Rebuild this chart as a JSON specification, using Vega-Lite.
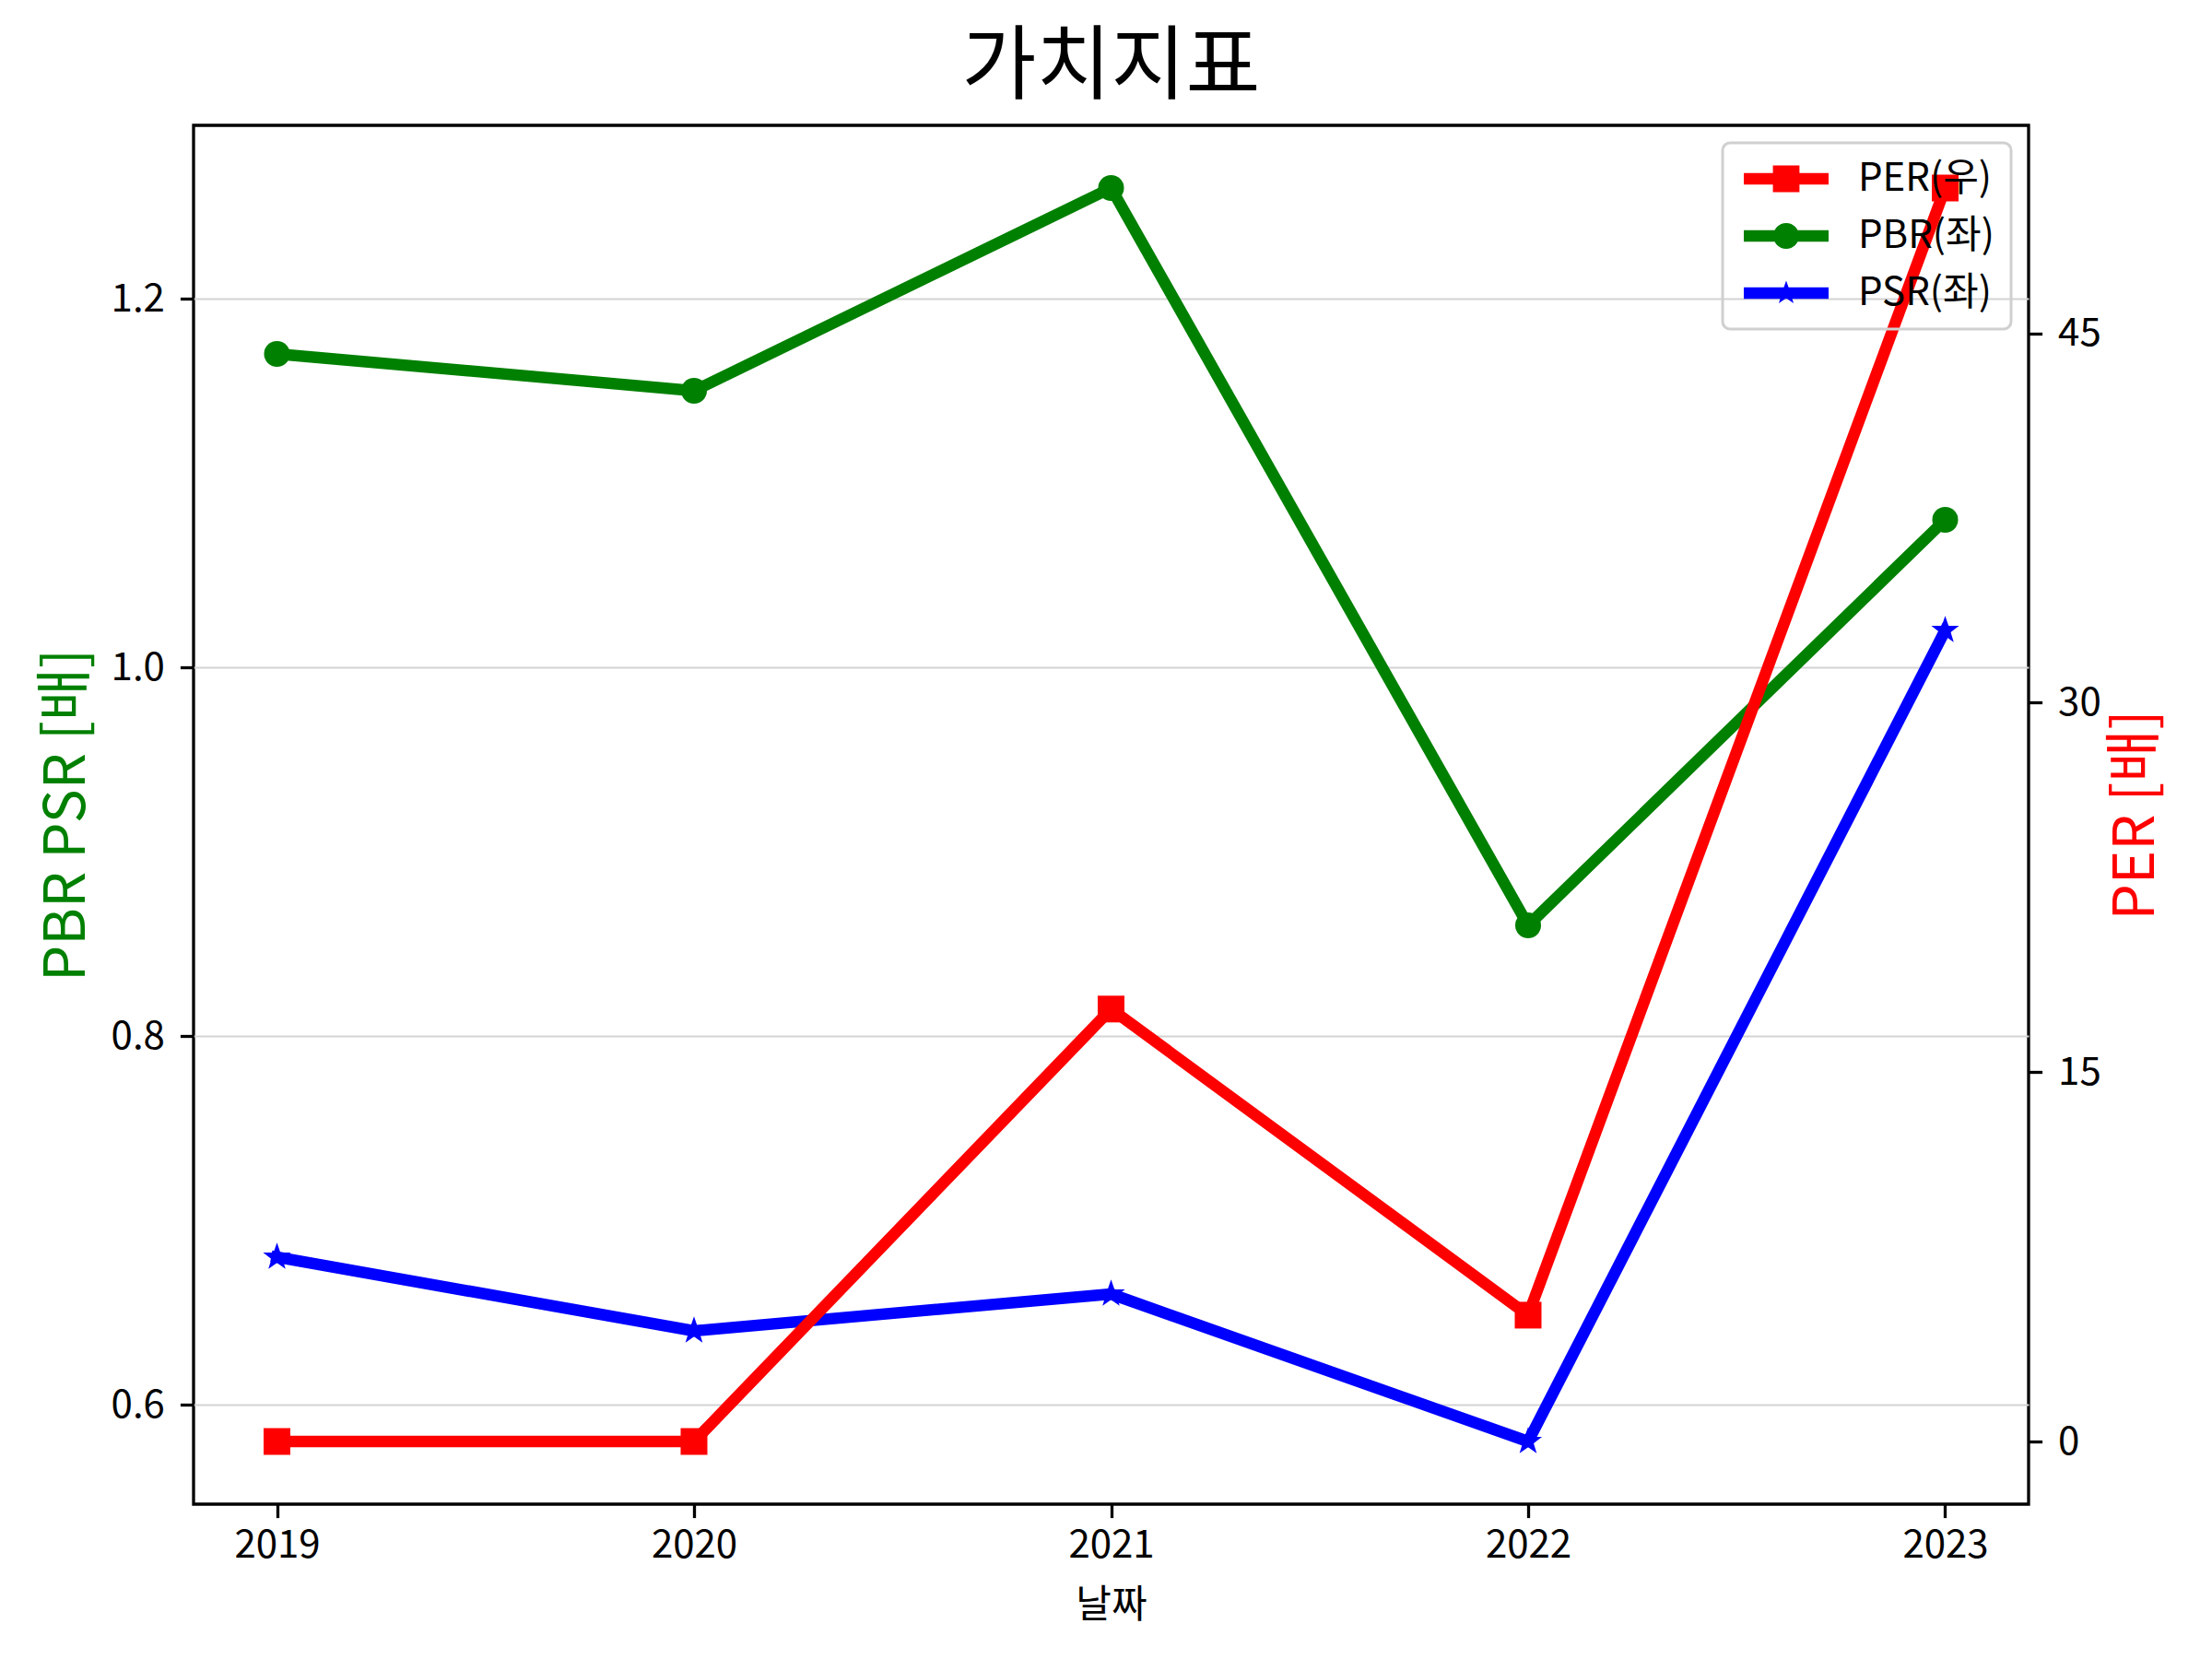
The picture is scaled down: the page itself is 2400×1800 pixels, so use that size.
{
  "$schema": "https://vega.github.io/schema/vega-lite/v6.json",
  "description": "가치지표: PER (right axis) vs PBR / PSR (left axis), 2019-2023",
  "width": 1991,
  "height": 1496,
  "autosize": {"type": "none"},
  "padding": {"left": 210, "top": 136, "right": 199, "bottom": 168},
  "background": "white",
  "config": {
    "font": "Noto Sans CJK KR",
    "view": {"stroke": "black", "strokeWidth": 3.3},
    "axis": {
      "domain": false,
      "grid": false,
      "tickColor": "black",
      "tickWidth": 3.3,
      "tickSize": 14.6,
      "labelFont": "Noto Sans CJK KR",
      "labelFontSize": 42,
      "labelColor": "black",
      "titleFont": "Noto Sans CJK KR",
      "titleFontWeight": "normal"
    },
    "legend": {
      "orient": "top-right",
      "offset": 19,
      "padding": 18,
      "strokeColor": "#d0d0d0",
      "strokeWidth": 3,
      "cornerRadius": 8,
      "fillColor": "rgba(255,255,255,0)",
      "labelFont": "Noto Sans CJK KR",
      "labelFontSize": 42,
      "labelColor": "black",
      "labelOffset": 87,
      "symbolSize": 1024,
      "symbolStrokeWidth": 0,
      "symbolOpacity": 1,
      "rowPadding": 20
    }
  },
  "title": {
    "text": "가치지표",
    "font": "Noto Sans CJK KR",
    "fontSize": 88,
    "fontWeight": "normal",
    "color": "black",
    "anchor": "middle",
    "frame": "group",
    "baseline": "bottom",
    "offset": 8,
    "dy": 78
  },
  "data": {
    "values": [
      {"year": 2019, "series": "PER(우)", "value": 0},
      {"year": 2020, "series": "PER(우)", "value": 0},
      {"year": 2021, "series": "PER(우)", "value": 17.56},
      {"year": 2022, "series": "PER(우)", "value": 5.13},
      {"year": 2023, "series": "PER(우)", "value": 50.9},
      {"year": 2019, "series": "PBR(좌)", "value": 1.17},
      {"year": 2020, "series": "PBR(좌)", "value": 1.15},
      {"year": 2021, "series": "PBR(좌)", "value": 1.26},
      {"year": 2022, "series": "PBR(좌)", "value": 0.86},
      {"year": 2023, "series": "PBR(좌)", "value": 1.08},
      {"year": 2019, "series": "PSR(좌)", "value": 0.68},
      {"year": 2020, "series": "PSR(좌)", "value": 0.64},
      {"year": 2021, "series": "PSR(좌)", "value": 0.66},
      {"year": 2022, "series": "PSR(좌)", "value": 0.58},
      {"year": 2023, "series": "PSR(좌)", "value": 1.02}
    ]
  },
  "encoding": {
    "x": {
      "field": "year",
      "type": "quantitative",
      "scale": {"domain": [2018.8, 2023.2], "nice": false, "zero": false},
      "axis": {
        "values": [2019, 2020, 2021, 2022, 2023],
        "format": "d",
        "labelPadding": 10,
        "title": "날짜",
        "titleFontSize": 42,
        "titleColor": "black",
        "titlePadding": 24
      }
    }
  },
  "layer": [
    {
      "encoding": {
        "y": {
          "field": "value",
          "type": "quantitative",
          "scale": {"domain": [0.546, 1.294], "nice": false, "zero": false},
          "axis": {
            "orient": "left",
            "values": [0.6, 0.8, 1.0, 1.2],
            "format": ".1f",
            "grid": true,
            "gridColor": "#d3d3d3",
            "gridWidth": 2,
            "labelPadding": 17,
            "title": "PBR PSR [배]",
            "titleColor": "#008000",
            "titleFontSize": 62,
            "titlePadding": 16
          }
        }
      },
      "layer": [
        {
          "transform": [{"filter": "datum.series === 'PBR(좌)'"}],
          "mark": {"type": "line", "color": "#008000", "strokeWidth": 12.5, "strokeJoin": "round", "strokeCap": "square"},
          "encoding": {}
        },
        {
          "transform": [{"filter": "datum.series === 'PBR(좌)'"}],
          "mark": {"type": "point", "shape": "circle", "filled": true, "color": "#008000", "size": 784, "opacity": 1, "strokeWidth": 0},
          "encoding": {}
        },
        {
          "transform": [{"filter": "datum.series === 'PSR(좌)'"}],
          "mark": {"type": "line", "color": "#0000ff", "strokeWidth": 12.5, "strokeJoin": "round", "strokeCap": "square"},
          "encoding": {}
        },
        {
          "transform": [{"filter": "datum.series === 'PSR(좌)'"}],
          "mark": {
            "type": "point",
            "shape": "M0,-1L0.235,-0.324L0.951,-0.309L0.38,0.124L0.588,0.809L0,0.4L-0.588,0.809L-0.38,0.124L-0.951,-0.309L-0.235,-0.324Z",
            "filled": true,
            "color": "#0000ff",
            "size": 1000,
            "opacity": 1,
            "strokeWidth": 0
          },
          "encoding": {}
        },
        {
          "transform": [{"filter": "datum.year === 2019"}],
          "mark": {"type": "point", "filled": true, "opacity": 0},
          "encoding": {
            "x": {"value": 10},
            "y": {"value": 10},
            "color": {
              "field": "series",
              "type": "nominal",
              "scale": {
                "domain": ["PER(우)", "PBR(좌)", "PSR(좌)"],
                "range": ["#ff0000", "#008000", "#0000ff"]
              },
              "legend": {"title": null}
            },
            "shape": {
              "field": "series",
              "type": "nominal",
              "scale": {
                "domain": ["PER(우)", "PBR(좌)", "PSR(좌)"],
                "range": [
                  "M-1,-0.39H4.75V0.39H-1Z M0.975,-0.9H2.775V0.9H0.975Z",
                  "M-1,-0.39H4.75V0.39H-1Z M1,0A0.875,0.875 0 1,1 2.75,0A0.875,0.875 0 1,1 1,0Z",
                  "M-1,-0.39H4.75V0.39H-1Z M1.875,-0.85L2.075,-0.275L2.683,-0.263L2.198,0.105L2.375,0.688L1.875,0.34L1.375,0.688L1.552,0.105L1.067,-0.263L1.675,-0.275Z"
                ]
              },
              "legend": {"title": null}
            }
          }
        }
      ]
    },
    {
      "transform": [{"filter": "datum.series === 'PER(우)'"}],
      "encoding": {
        "y": {
          "field": "value",
          "type": "quantitative",
          "scale": {"domain": [-2.545, 53.445], "nice": false, "zero": false},
          "axis": {
            "orient": "right",
            "values": [0, 15, 30, 45],
            "format": "d",
            "grid": false,
            "labelPadding": 17,
            "title": "PER [배]",
            "titleColor": "#ff0000",
            "titleFontSize": 62,
            "titleAngle": 270,
            "titlePadding": 70
          }
        }
      },
      "layer": [
        {
          "mark": {"type": "line", "color": "#ff0000", "strokeWidth": 12.5, "strokeJoin": "round", "strokeCap": "square"},
          "encoding": {}
        },
        {
          "mark": {"type": "point", "shape": "square", "filled": true, "color": "#ff0000", "size": 841, "opacity": 1, "strokeWidth": 0},
          "encoding": {}
        }
      ]
    }
  ],
  "resolve": {"scale": {"y": "independent"}}
}
